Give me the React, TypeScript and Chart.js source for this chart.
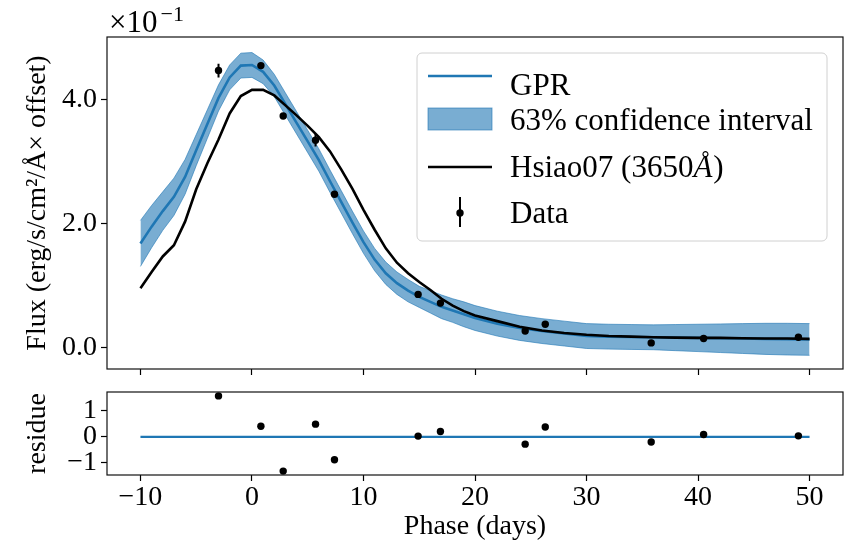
import React, { useEffect, useRef } from 'react';
import { Chart, registerables } from 'chart.js';

Chart.register(...registerables);

// ---- data (flux in units of 1e-1) ----
const phaseGrid = [
  -10, -9, -8, -7, -6, -5, -4, -3, -2, -1, 0, 1, 2, 3, 4, 5, 6, 7, 8, 9, 10,
  11, 12, 13, 14, 15, 16, 17, 18, 19, 20, 22, 24, 26, 28, 30, 32, 34, 36, 38,
  40, 42, 44, 46, 48, 50,
];
const gprMean = [
  1.68, 1.95, 2.2, 2.43, 2.75, 3.18, 3.6, 4.02, 4.35, 4.54, 4.55, 4.44, 4.22,
  3.92, 3.62, 3.32, 3.02, 2.68, 2.35, 2.02, 1.7, 1.42, 1.2, 1.04, 0.92, 0.82,
  0.74, 0.66, 0.6, 0.54, 0.48, 0.39, 0.32, 0.27, 0.23, 0.19, 0.18, 0.175, 0.17,
  0.165, 0.16, 0.155, 0.15, 0.145, 0.14, 0.135,
];
const gprUpper = [
  2.05, 2.29, 2.51, 2.73, 3.03, 3.43, 3.83, 4.23, 4.55, 4.74, 4.75, 4.63, 4.4,
  4.1, 3.8, 3.5, 3.2, 2.86, 2.53, 2.2, 1.88, 1.6, 1.38, 1.22, 1.1, 0.99, 0.92,
  0.85, 0.79, 0.74, 0.68, 0.59, 0.52, 0.47, 0.43, 0.39, 0.38, 0.375, 0.37,
  0.375, 0.38, 0.385, 0.39, 0.395, 0.395, 0.39,
];
const gprLower = [
  1.31, 1.61, 1.89, 2.13, 2.47, 2.93, 3.37, 3.81, 4.15, 4.34, 4.35, 4.25, 4.04,
  3.74, 3.44, 3.14, 2.84, 2.5, 2.17, 1.84, 1.52, 1.24, 1.02, 0.86, 0.74, 0.65,
  0.56, 0.47, 0.41, 0.34, 0.28, 0.19, 0.12, 0.07, 0.03, -0.01, -0.02, -0.025,
  -0.03, -0.045, -0.06, -0.075, -0.09, -0.105, -0.115, -0.12,
];
const hsiaoFlux = [
  0.96, 1.22, 1.47, 1.65, 2.03, 2.55, 2.97, 3.35, 3.77, 4.05, 4.15, 4.15, 4.06,
  3.9, 3.74, 3.57, 3.39, 3.16, 2.87, 2.56, 2.22, 1.9, 1.6, 1.37, 1.2, 1.06,
  0.93, 0.79, 0.68, 0.59, 0.52, 0.43, 0.34, 0.28, 0.24, 0.21, 0.19, 0.18, 0.17,
  0.165, 0.16, 0.16, 0.155, 0.15, 0.15, 0.145,
];

const dataPhase = [-3.0, 0.8, 2.8, 5.7, 7.4, 14.9, 16.9, 24.5, 26.3, 35.8, 40.5, 49.0];
const dataFlux = [4.46, 4.54, 3.73, 3.34, 2.47, 0.86, 0.72, 0.27, 0.38, 0.08, 0.15, 0.17];
const dataErr = [0.11, 0.04, 0.04, 0.1, 0.04, 0.03, 0.05, 0.03, 0.03, 0.03, 0.03, 0.05];
const residue = [1.58, 0.41, -1.32, 0.49, -0.88, 0.03, 0.21, -0.28, 0.38, -0.2, 0.09, 0.04];
const residueZero = [0, 0];

const xTicks = [-10, 0, 10, 20, 30, 40, 50];
const yTicksTop = [0, 2, 4];
const yTicksBottom = [-1, 0, 1];

// ---- styling ----
const SERIF = "'Liberation Serif', 'Times New Roman', serif";
const BLUE = '#1f77b4';
const BAND = 'rgba(31,119,180,0.6)';
const TICK_FONT = { family: SERIF, size: 28 };

const pts = (xs: number[], ys: number[]) => xs.map((x, i) => ({ x, y: ys[i] }));
const fmtMinus = (v: number) => (v < 0 ? '\u2212' + Math.abs(v) : String(v));

const framePlugin = {
  id: 'frame',
  afterDatasetsDraw(chart: any) {
    const { ctx, chartArea: a } = chart;
    ctx.save();
    ctx.strokeStyle = '#111';
    ctx.lineWidth = 1.2;
    ctx.strokeRect(a.left, a.top, a.right - a.left, a.bottom - a.top);
    ctx.restore();
  },
};

const errorBarPlugin = {
  id: 'errbars',
  afterDatasetsDraw(chart: any) {
    const { ctx } = chart;
    const meta = chart.getDatasetMeta(4);
    const ys = chart.scales.y;
    ctx.save();
    ctx.strokeStyle = '#000';
    ctx.lineWidth = 2;
    ctx.beginPath();
    dataFlux.forEach((v, i) => {
      const el = meta.data[i];
      if (!el) return;
      ctx.moveTo(el.x, ys.getPixelForValue(v - dataErr[i]));
      ctx.lineTo(el.x, ys.getPixelForValue(v + dataErr[i]));
    });
    ctx.stroke();
    ctx.restore();
  },
};

const offsetTextPlugin = {
  id: 'offsetText',
  afterDraw(chart: any) {
    const { ctx, chartArea: a } = chart;
    ctx.save();
    ctx.fillStyle = '#000';
    ctx.textBaseline = 'alphabetic';
    ctx.font = `31px ${SERIF}`;
    const base = '\u00d710';
    ctx.fillText(base, a.left + 2, a.top - 5);
    const w = ctx.measureText(base).width;
    ctx.font = `22px ${SERIF}`;
    ctx.fillText('\u22121', a.left + 2 + w + 3, a.top - 16);
    ctx.restore();
  },
};

const legendPlugin = {
  id: 'customLegend',
  afterDraw(chart: any) {
    const { ctx, chartArea: a } = chart;
    const L = a.right - 426;
    const T = a.top + 16;
    ctx.save();
    // frame
    ctx.beginPath();
    const w = 410, h = 188, r = 5;
    ctx.moveTo(L + r, T);
    ctx.arcTo(L + w, T, L + w, T + h, r);
    ctx.arcTo(L + w, T + h, L, T + h, r);
    ctx.arcTo(L, T + h, L, T, r);
    ctx.arcTo(L, T, L + w, T, r);
    ctx.closePath();
    ctx.fillStyle = 'rgba(255,255,255,0.8)';
    ctx.fill();
    ctx.strokeStyle = '#d0d0d0';
    ctx.lineWidth = 1;
    ctx.stroke();

    const hx0 = L + 11, hx1 = L + 75, tx = L + 93;
    ctx.font = `31px ${SERIF}`;
    ctx.fillStyle = '#000';
    ctx.textBaseline = 'alphabetic';

    // GPR
    ctx.strokeStyle = BLUE;
    ctx.lineWidth = 2.6;
    ctx.beginPath();
    ctx.moveTo(hx0, T + 23);
    ctx.lineTo(hx1, T + 23);
    ctx.stroke();
    ctx.fillText('GPR', tx, T + 42);

    // band
    ctx.fillStyle = BAND;
    ctx.fillRect(hx0, T + 55, hx1 - hx0, 22);
    ctx.strokeStyle = BAND;
    ctx.lineWidth = 1;
    ctx.strokeRect(hx0, T + 55, hx1 - hx0, 22);
    ctx.fillStyle = '#000';
    ctx.fillText('63% confidence interval', tx, T + 77);

    // Hsiao
    ctx.strokeStyle = '#000';
    ctx.lineWidth = 2.6;
    ctx.beginPath();
    ctx.moveTo(hx0, T + 114);
    ctx.lineTo(hx1, T + 114);
    ctx.stroke();
    const p1 = 'Hsiao07 (3650';
    ctx.fillText(p1, tx, T + 124);
    let cx = tx + ctx.measureText(p1).width;
    ctx.font = `italic 31px ${SERIF}`;
    ctx.fillText('\u00c5', cx, T + 124);
    cx += ctx.measureText('\u00c5').width + 1;
    ctx.font = `31px ${SERIF}`;
    ctx.fillText(')', cx, T + 124);

    // Data
    const mx = (hx0 + hx1) / 2;
    ctx.lineWidth = 2;
    ctx.beginPath();
    ctx.moveTo(mx, T + 144);
    ctx.lineTo(mx, T + 174);
    ctx.stroke();
    ctx.beginPath();
    ctx.arc(mx, T + 160, 3.7, 0, Math.PI * 2);
    ctx.fill();
    ctx.fillText('Data', tx, T + 170);
    ctx.restore();
  },
};

const tickGrid = {
  drawOnChartArea: false,
  drawTicks: true,
  tickLength: 6,
  tickColor: '#000',
  tickWidth: 1.2,
};

function zeroPad(scale: any) {
  scale.paddingTop = 0;
  scale.paddingBottom = 0;
  scale.paddingLeft = 0;
  scale.paddingRight = 0;
}

export default function App() {
  const topRef = useRef<HTMLCanvasElement>(null);
  const botRef = useRef<HTMLCanvasElement>(null);

  useEffect(() => {
    const top = new Chart(topRef.current as HTMLCanvasElement, {
      type: 'line',
      data: {
        datasets: [
          {
            label: 'lower',
            data: pts(phaseGrid, gprLower),
            borderColor: BAND,
            borderWidth: 1,
            pointRadius: 0,
            fill: false,
            order: 4,
          },
          {
            label: '63% confidence interval',
            data: pts(phaseGrid, gprUpper),
            borderColor: BAND,
            borderWidth: 1,
            backgroundColor: BAND,
            pointRadius: 0,
            fill: '-1',
            order: 3,
          },
          {
            label: 'GPR',
            data: pts(phaseGrid, gprMean),
            borderColor: BLUE,
            borderWidth: 2.6,
            pointRadius: 0,
            fill: false,
            order: 2,
          },
          {
            label: 'Hsiao07 (3650Å)',
            data: pts(phaseGrid, hsiaoFlux),
            borderColor: '#000',
            borderWidth: 2.6,
            pointRadius: 0,
            fill: false,
            order: 1,
          },
          {
            label: 'Data',
            data: pts(dataPhase, dataFlux),
            showLine: false,
            pointRadius: 3.7,
            pointBackgroundColor: '#000',
            pointBorderWidth: 0,
            borderColor: '#000',
            order: 0,
          },
        ],
      } as any,
      options: {
        animation: false,
        responsive: false,
        devicePixelRatio: 1,
        layout: { padding: { top: 37, right: 7, left: 0, bottom: 0 } },
        plugins: { legend: { display: false }, tooltip: { enabled: false } },
        elements: { line: { tension: 0 } },
        scales: {
          x: {
            type: 'linear',
            min: -13,
            max: 53,
            afterBuildTicks: (s: any) => {
              s.ticks = xTicks.map((v) => ({ value: v }));
            },
            afterFit: (s: any) => {
              s.height = 11;
              zeroPad(s);
            },
            ticks: { display: false },
            grid: tickGrid,
            border: { display: false },
          },
          y: {
            type: 'linear',
            min: -0.34,
            max: 5.0,
            afterBuildTicks: (s: any) => {
              s.ticks = yTicksTop.map((v) => ({ value: v }));
            },
            afterFit: (s: any) => {
              s.width = 107;
              zeroPad(s);
            },
            ticks: {
              font: TICK_FONT,
              color: '#000',
              padding: 4,
              callback: (v: any) => Number(v).toFixed(1),
            },
            grid: tickGrid,
            border: { display: false },
            title: {
              display: true,
              text: 'Flux (erg/s/cm²/Å× offset)',
              font: TICK_FONT,
              color: '#000',
              padding: { top: 21, bottom: 0 },
            },
          },
        },
      } as any,
      plugins: [errorBarPlugin, framePlugin, offsetTextPlugin, legendPlugin],
    });

    const bottom = new Chart(botRef.current as HTMLCanvasElement, {
      type: 'line',
      data: {
        datasets: [
          {
            label: 'residue',
            data: pts(dataPhase, residue),
            showLine: false,
            pointRadius: 3.7,
            pointBackgroundColor: '#000',
            pointBorderWidth: 0,
            borderColor: '#000',
            order: 0,
          },
          {
            label: 'zero',
            data: pts([phaseGrid[0], phaseGrid[phaseGrid.length - 1]], residueZero),
            borderColor: BLUE,
            borderWidth: 2.2,
            pointRadius: 0,
            fill: false,
            order: 1,
          },
        ],
      } as any,
      options: {
        animation: false,
        responsive: false,
        devicePixelRatio: 1,
        layout: { padding: { top: 12, right: 7, left: 0, bottom: 0 } },
        plugins: { legend: { display: false }, tooltip: { enabled: false } },
        scales: {
          x: {
            type: 'linear',
            min: -13,
            max: 53,
            afterBuildTicks: (s: any) => {
              s.ticks = xTicks.map((v) => ({ value: v }));
            },
            afterFit: (s: any) => {
              s.height = 72;
              zeroPad(s);
            },
            ticks: {
              font: TICK_FONT,
              color: '#000',
              padding: 0,
              maxRotation: 0,
              callback: (v: any) => fmtMinus(Number(v)),
            },
            grid: tickGrid,
            border: { display: false },
            title: {
              display: true,
              text: 'Phase (days)',
              font: TICK_FONT,
              color: '#000',
              padding: { top: 0, bottom: 4 },
            },
          },
          y: {
            type: 'linear',
            min: -1.47,
            max: 1.73,
            afterBuildTicks: (s: any) => {
              s.ticks = yTicksBottom.map((v) => ({ value: v }));
            },
            afterFit: (s: any) => {
              s.width = 107;
              zeroPad(s);
            },
            ticks: {
              font: TICK_FONT,
              color: '#000',
              padding: 4,
              callback: (v: any) => fmtMinus(Number(v)),
            },
            grid: tickGrid,
            border: { display: false },
            title: {
              display: true,
              text: 'residue',
              font: TICK_FONT,
              color: '#000',
              padding: { top: 21, bottom: 0 },
            },
          },
        },
      } as any,
      plugins: [framePlugin],
    });

    return () => {
      top.destroy();
      bottom.destroy();
    };
  }, []);

  return (
    <div
      style={{
        position: 'absolute',
        left: 0,
        top: 0,
        width: 850,
        height: 547,
        background: '#fff',
        overflow: 'hidden',
      }}
    >
      <canvas
        ref={topRef}
        width={850}
        height={380}
        style={{ position: 'absolute', left: 0, top: 0, width: 850, height: 380 }}
      />
      <canvas
        ref={botRef}
        width={850}
        height={167}
        style={{ position: 'absolute', left: 0, top: 380, width: 850, height: 167 }}
      />
    </div>
  );
}
